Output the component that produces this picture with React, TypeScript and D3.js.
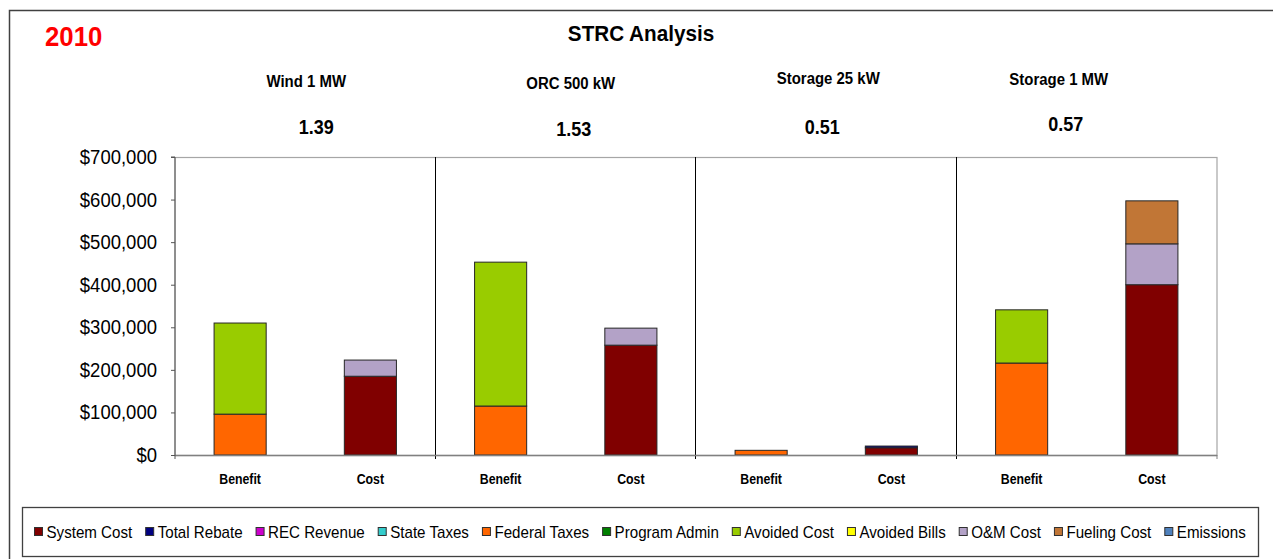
import React, { useEffect, useRef } from "react";
import * as d3 from "d3";

const panels = ["Wind 1 MW", "ORC 500 kW", "Storage 25 kW", "Storage 1 MW"];
const ratios = ["1.39", "1.53", "0.51", "0.57"];
const barTypes = ["Benefit", "Cost"];
const yTicks = [0, 100000, 200000, 300000, 400000, 500000, 600000, 700000];

const seriesNames = [
  "System Cost",
  "Total Rebate",
  "REC Revenue",
  "State Taxes",
  "Federal Taxes",
  "Program Admin",
  "Avoided Cost",
  "Avoided Bills",
  "O&M Cost",
  "Fueling Cost",
  "Emissions",
];
const seriesColors = [
  "#800000",
  "#000080",
  "#cc00cc",
  "#33cccc",
  "#ff6600",
  "#008000",
  "#99cc00",
  "#ffff00",
  "#b3a2c7",
  "#c17636",
  "#4f81bd",
];

// order of bars: Wind B, Wind C, ORC B, ORC C, S25 B, S25 C, S1MW B, S1MW C
const systemCost = [0, 185000, 0, 258000, 0, 17000, 0, 400000];
const totalRebate = [0, 0, 0, 0, 0, 4000, 0, 0];
const recRevenue = [0, 0, 0, 0, 0, 0, 0, 0];
const stateTaxes = [0, 0, 0, 0, 0, 0, 0, 0];
const federalTaxes = [96000, 0, 115000, 0, 11000, 0, 216000, 0];
const programAdmin = [0, 0, 0, 0, 0, 0, 0, 0];
const avoidedCost = [214000, 0, 338000, 0, 0, 0, 125000, 0];
const avoidedBills = [0, 0, 0, 0, 0, 0, 0, 0];
const omCost = [0, 38000, 0, 40000, 0, 0, 0, 96000];
const fuelingCost = [0, 0, 0, 0, 0, 0, 0, 101000];
const emissions = [0, 0, 0, 0, 0, 0, 0, 0];

const seriesValues = [
  systemCost,
  totalRebate,
  recRevenue,
  stateTaxes,
  federalTaxes,
  programAdmin,
  avoidedCost,
  avoidedBills,
  omCost,
  fuelingCost,
  emissions,
];

// label placement (layout only)
const titleDx = [1, 5, 2, -28];
const titleY = [87, 89, 84, 85];
const ratioDx = [11, 8, -4, -21];
const ratioY = [134, 136, 134, 131];

const W = 1273;
const H = 559;
const plot = { left: 175, right: 1217, top: 157, bottom: 455 };
const FONT = "'Liberation Sans', Arial, sans-serif";
const SX = 0.9;

const App: React.FC = () => {
  const ref = useRef<SVGSVGElement | null>(null);

  useEffect(() => {
    if (!ref.current) return;
    const svg = d3.select(ref.current);
    svg.selectAll("*").remove();

    const label = (
      g: d3.Selection<any, any, any, any>,
      x: number,
      y: number,
      text: string,
      size: number,
      opts: { bold?: boolean; anchor?: string; fill?: string; sx?: number } = {}
    ) =>
      g
        .append("text")
        .attr("transform", `translate(${x},${y}) scale(${opts.sx ?? SX},1)`)
        .attr("text-anchor", opts.anchor ?? "middle")
        .attr("font-family", FONT)
        .attr("font-size", size)
        .attr("font-weight", opts.bold ? "bold" : "normal")
        .attr("fill", opts.fill ?? "#000")
        .text(text);

    // outer frame
    svg
      .append("rect")
      .attr("x", 9.5)
      .attr("y", 10.5)
      .attr("width", 1400)
      .attr("height", 700)
      .attr("fill", "#fff")
      .attr("stroke", "#404040")
      .attr("stroke-width", 1.5);

    label(svg, 45, 46, "2010", 28, { bold: true, anchor: "start", fill: "#ff0000", sx: 0.92 });
    label(svg, 641, 41, "STRC Analysis", 22, { bold: true, sx: 0.94 });

    const x0 = d3.scaleBand().domain(panels).range([plot.left, plot.right]).padding(0);
    const x1 = d3
      .scaleBand()
      .domain(barTypes)
      .range([0, x0.bandwidth()])
      .paddingInner(0.6)
      .paddingOuter(0.3);
    const y = d3.scaleLinear().domain([0, 700000]).range([plot.bottom, plot.top]);

    // plot area border
    svg
      .append("rect")
      .attr("x", plot.left)
      .attr("y", plot.top + 0.5)
      .attr("width", plot.right - plot.left)
      .attr("height", plot.bottom - plot.top)
      .attr("fill", "none")
      .attr("stroke", "#a6a6a6")
      .attr("stroke-width", 1.2);

    // panel dividers
    panels.slice(1).forEach((p) => {
      svg
        .append("line")
        .attr("x1", Math.round(x0(p)!) - 0.5)
        .attr("x2", Math.round(x0(p)!) - 0.5)
        .attr("y1", plot.top)
        .attr("y2", plot.bottom + 4)
        .attr("stroke", "#000")
        .attr("stroke-width", 1);
    });
    svg
      .append("line")
      .attr("x1", plot.right)
      .attr("x2", plot.right)
      .attr("y1", plot.bottom)
      .attr("y2", plot.bottom + 4)
      .attr("stroke", "#808080");

    // panel titles and ratios
    panels.forEach((p, i) => {
      const cx = x0(p)! + x0.bandwidth() / 2;
      label(svg, cx + titleDx[i], titleY[i], p, 17, { bold: true, sx: 0.88 });
      label(svg, cx + ratioDx[i], ratioY[i], ratios[i], 20, { bold: true, sx: 0.9 });
    });

    // stacked bars
    const rows = panels.flatMap((p, pi) =>
      barTypes.map((b, bi) => {
        const row: Record<string, any> = { panel: p, type: b };
        seriesNames.forEach((s, si) => (row[s] = seriesValues[si][pi * 2 + bi]));
        return row;
      })
    );
    const stacked = d3.stack<Record<string, any>>().keys(seriesNames)(rows);
    const color = d3.scaleOrdinal<string>().domain(seriesNames).range(seriesColors);

    const barG = svg.append("g");
    stacked.forEach((layer) => {
      layer.forEach((d) => {
        if (d[1] - d[0] <= 0) return;
        barG
          .append("rect")
          .attr("x", x0(d.data.panel)! + x1(d.data.type)!)
          .attr("y", y(d[1]))
          .attr("width", x1.bandwidth())
          .attr("height", y(d[0]) - y(d[1]))
          .attr("fill", color(layer.key))
          .attr("stroke", "#262626")
          .attr("stroke-width", 1);
      });
    });

    // x axis line
    svg
      .append("line")
      .attr("x1", plot.left)
      .attr("x2", plot.right)
      .attr("y1", plot.bottom + 0.5)
      .attr("y2", plot.bottom + 0.5)
      .attr("stroke", "#808080")
      .attr("stroke-width", 1.5);

    // y axis
    const yAxis = svg
      .append("g")
      .attr("transform", `translate(${plot.left},0)`)
      .call(
        d3
          .axisLeft(y)
          .tickValues(yTicks)
          .tickSize(4)
          .tickPadding(10)
          .tickFormat((d) => "$" + d3.format(",")(d as number))
      );
    yAxis.select(".domain").attr("stroke", "#555").attr("d", `M-4,${plot.top}H0V${plot.bottom + 4}`);
    yAxis.selectAll(".tick line").attr("stroke", "#555");
    yAxis.selectAll(".tick text").remove();
    yTicks.forEach((t) => {
      label(svg, plot.left - 18, y(t) + 7, "$" + d3.format(",")(t), 19.5, { anchor: "end", sx: 0.95 });
    });

    // category labels
    panels.forEach((p) => {
      barTypes.forEach((b) => {
        const cx = x0(p)! + x1(b)! + x1.bandwidth() / 2;
        label(svg, cx, 484, b, 14, { bold: true, sx: 0.88 });
      });
    });

    // legend
    const lg = svg.append("g");
    lg.append("rect")
      .attr("x", 22.5)
      .attr("y", 507.5)
      .attr("width", 1236)
      .attr("height", 49)
      .attr("fill", "#fff")
      .attr("stroke", "#404040")
      .attr("stroke-width", 1.3);
    const lsx = 0.89;
    let lx = 34.5;
    seriesNames.forEach((s, i) => {
      lg.append("rect")
        .attr("x", lx)
        .attr("y", 527.5)
        .attr("width", 8)
        .attr("height", 8)
        .attr("fill", seriesColors[i])
        .attr("stroke", "#303030")
        .attr("stroke-width", 1);
      const t = label(lg, lx + 12, 537.5, s, 17, { anchor: "start", sx: lsx });
      const w = (t.node() as SVGTextElement).getComputedTextLength() * lsx;
      lx += 12 + w + 13.5;
    });
  }, []);

  return (
    <svg
      ref={ref}
      width={W}
      height={H}
      style={{ position: "absolute", left: 0, top: 0, background: "#fff" }}
    ></svg>
  );
};

export default App;
